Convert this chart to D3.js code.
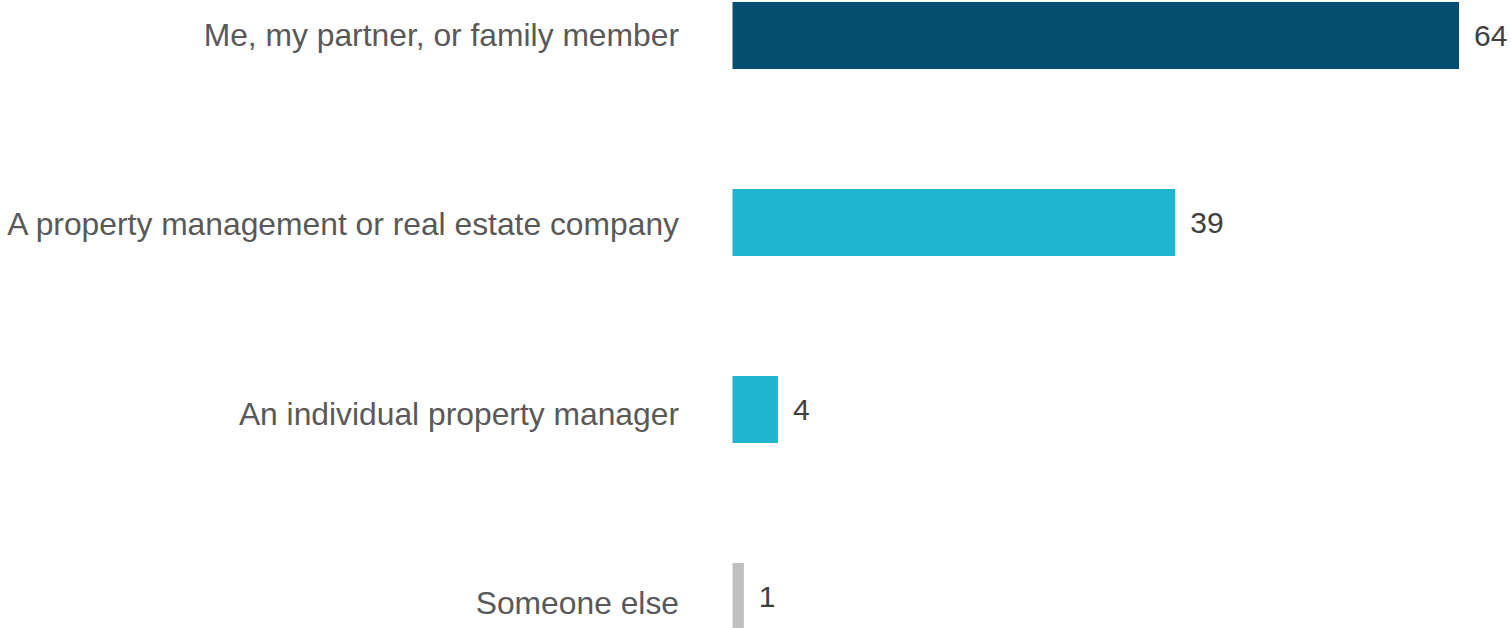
<!DOCTYPE html>
<html>
<head>
<meta charset="utf-8">
<script src="https://cdn.jsdelivr.net/npm/d3@7"></script>
<style>
  body { margin: 0; background: #fff; }
  svg { display: block; font-family: "Liberation Sans", Arial, sans-serif; }
</style>
</head>
<body>
<svg id="chart" width="1511" height="628"></svg>
<script>
// chart data
var categories = [
    "Me, my partner, or family member",
    "A property management or real estate company",
    "An individual property manager",
    "Someone else"
];
var values = [64, 39, 4, 1];
var colors = ["#034e6e", "#1fb5d1", "#1fb5d1", "#bfbfbf"];

var svg = d3.select("#chart");

// bars start at x = 732, 64 reaches x = 1459
var x = d3.scaleLinear()
    .domain([0, 64])
    .range([732.5, 1459]);

// bands of 187px, bars 67px tall
var y = d3.scaleBand()
    .domain(categories)
    .range([2, 630])
    .paddingInner(120 / 187)
    .paddingOuter(0);

// the category axis labels sit on a slightly wider spacing than the bars
var yLabel = d3.scalePoint()
    .domain(categories)
    .range([45.5, 614]);

var rows = svg.selectAll(".row")
    .data(categories)
  .enter().append("g")
    .attr("class", "row");

rows.append("rect")
    .attr("x", x(0))
    .attr("y", d => y(d))
    .attr("width", (d, i) => x(values[i]) - x(0))
    .attr("height", y.bandwidth())
    .attr("fill", (d, i) => colors[i]);

// category labels to the left
rows.append("text")
    .attr("x", 679)
    .attr("y", d => yLabel(d))
    .attr("text-anchor", "end")
    .attr("font-size", 31.8)
    .attr("fill", "#595959")
    .text(d => d);

// value labels at the bar end
rows.append("text")
    .attr("x", (d, i) => x(values[i]) + 15)
    .attr("y", d => y(d) + y.bandwidth() / 2 + 10.8)
    .attr("font-size", 30)
    .attr("fill", "#404040")
    .text((d, i) => values[i]);
</script>
</body>
</html>
